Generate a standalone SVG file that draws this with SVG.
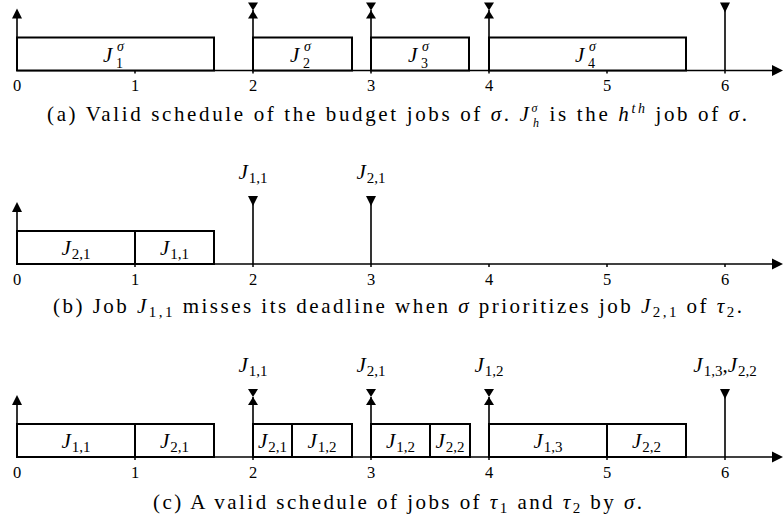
<svg xmlns="http://www.w3.org/2000/svg" width="783" height="523" viewBox="0 0 783 523">
<style>
text{font-family:"Liberation Serif","DejaVu Serif",serif;fill:#000}
.i{font-style:italic}
.cap{font-size:21px}
.tick{font-size:16.5px;text-anchor:middle}
.lbl{font-size:21px;text-anchor:middle}
.jl{font-size:21px}
.sub{font-size:15px}
.ss{font-size:14px}
.box{fill:#fff;stroke:#000;stroke-width:2}
.ax{stroke:#000;stroke-width:1.5;fill:none}
.vl{stroke:#000;stroke-width:1.6;fill:none}
.tri{fill:#000;stroke:none}
</style>
<defs>
<g id="up"><polygon class="tri" points="-5,-52 5,-52 0,-62"/></g>
<g id="down"><polygon class="tri" points="-5,-68 5,-68 0,-58"/></g>
<g id="hg"><polygon class="tri" points="-5,-68 5,-68 0,-60"/><polygon class="tri" points="0,-60 -5,-52 5,-52"/></g>
<g id="axis">
<line class="ax" x1="17" y1="0" x2="774" y2="0"/>
<polygon class="tri" points="772,-5.5 783,0 772,5.5"/>
<line class="ax" x1="135" y1="0" x2="135" y2="3"/>
<line class="ax" x1="253" y1="0" x2="253" y2="3"/>
<line class="ax" x1="371" y1="0" x2="371" y2="3"/>
<line class="ax" x1="489" y1="0" x2="489" y2="3"/>
<line class="ax" x1="607" y1="0" x2="607" y2="3"/>
<line class="ax" x1="725" y1="0" x2="725" y2="3"/>
<text class="tick" x="17" y="20.5">0</text>
<text class="tick" x="135" y="20.5">1</text>
<text class="tick" x="253" y="20.5">2</text>
<text class="tick" x="371" y="20.5">3</text>
<text class="tick" x="489" y="20.5">4</text>
<text class="tick" x="607" y="20.5">5</text>
<text class="tick" x="725" y="20.5">6</text>
</g>
</defs>

<!-- Panel (a) -->
<g id="panel-a">
<use href="#axis" transform="translate(0,70.5)"/>
<g id="a-boxes">
<g id="a-J1"><rect class="box" x="17" y="37.5" width="197" height="33"/>
<text class="jl i" x="103" y="62">J</text><text class="i ss" x="117" y="51">σ</text><text class="ss" x="116" y="68">1</text></g>
<g id="a-J2"><rect class="box" x="253" y="37.5" width="99" height="33"/>
<text class="jl i" x="290" y="62">J</text><text class="i ss" x="304" y="51">σ</text><text class="ss" x="303" y="68">2</text></g>
<g id="a-J3"><rect class="box" x="371" y="37.5" width="98" height="33"/>
<text class="jl i" x="408" y="62">J</text><text class="i ss" x="422" y="51">σ</text><text class="ss" x="421" y="68">3</text></g>
<g id="a-J4"><rect class="box" x="489" y="37.5" width="197" height="33"/>
<text class="jl i" x="575" y="62">J</text><text class="i ss" x="589" y="51">σ</text><text class="ss" x="588" y="68">4</text></g>
</g>
<g id="a-arrows">
<line class="vl" x1="17" y1="70.5" x2="17" y2="12"/><use href="#up" transform="translate(17,70.5)"/>
<line class="vl" x1="253" y1="70.5" x2="253" y2="10"/><use href="#hg" transform="translate(253,70.5)"/>
<line class="vl" x1="371" y1="70.5" x2="371" y2="10"/><use href="#hg" transform="translate(371,70.5)"/>
<line class="vl" x1="489" y1="70.5" x2="489" y2="10"/><use href="#hg" transform="translate(489,70.5)"/>
<line class="vl" x1="725" y1="70.5" x2="725" y2="8"/><use href="#down" transform="translate(725,70.5)"/>
</g>
<text class="cap" x="47" y="121" textLength="700" lengthAdjust="spacing">(a) Valid schedule of the budget jobs of <tspan class="i">σ</tspan>.  <tspan class="i">J</tspan><tspan class="i" font-size="12" dy="-9">σ</tspan><tspan class="i" font-size="12" dx="-7" dy="15">h</tspan><tspan dy="-6">  is the </tspan><tspan class="i">h</tspan><tspan class="i" font-size="14" dy="-8">th</tspan><tspan dy="8"> job of </tspan><tspan class="i">σ</tspan>.</text>
</g>

<!-- Panel (b) -->
<g id="panel-b">
<use href="#axis" transform="translate(0,264)"/>
<g id="b-J21"><rect class="box" x="17" y="231" width="118" height="33"/>
<text class="lbl" x="76" y="255"><tspan class="i">J</tspan><tspan class="sub" dx="1" dy="4">2,1</tspan></text></g>
<g id="b-J11"><rect class="box" x="135" y="231" width="79" height="33"/>
<text class="lbl" x="174.5" y="255"><tspan class="i">J</tspan><tspan class="sub" dx="1" dy="4">1,1</tspan></text></g>
<g id="b-arrows">
<line class="vl" x1="17" y1="264" x2="17" y2="206"/><use href="#up" transform="translate(17,264)"/>
<line class="vl" x1="253" y1="264" x2="253" y2="200"/><use href="#down" transform="translate(253,264)"/>
<line class="vl" x1="371" y1="264" x2="371" y2="200"/><use href="#down" transform="translate(371,264)"/>
</g>
<text class="lbl" x="253" y="179"><tspan class="i">J</tspan><tspan class="sub" dx="1" dy="4">1,1</tspan></text>
<text class="lbl" x="371" y="179"><tspan class="i">J</tspan><tspan class="sub" dx="1" dy="4">2,1</tspan></text>
<text class="cap" x="53" y="313" textLength="689" lengthAdjust="spacing">(b) Job <tspan class="i">J</tspan><tspan font-size="15" dy="4">1,1</tspan><tspan dy="-4"> misses its deadline when </tspan><tspan class="i">σ</tspan> prioritizes job <tspan class="i">J</tspan><tspan font-size="15" dy="4">2,1</tspan><tspan dy="-4"> of </tspan><tspan class="i">τ</tspan><tspan font-size="15" dy="4">2</tspan><tspan dy="-4">.</tspan></text>
</g>

<!-- Panel (c) -->
<g id="panel-c">
<use href="#axis" transform="translate(0,457)"/>
<g id="c-boxes">
<g id="c-J11"><rect class="box" x="17" y="424" width="118" height="33"/>
<text class="lbl" x="76" y="448"><tspan class="i">J</tspan><tspan class="sub" dx="1" dy="4">1,1</tspan></text></g>
<g id="c-J21a"><rect class="box" x="135" y="424" width="79" height="33"/>
<text class="lbl" x="174.5" y="448"><tspan class="i">J</tspan><tspan class="sub" dx="1" dy="4">2,1</tspan></text></g>
<g id="c-J21b"><rect class="box" x="253" y="424" width="39" height="33"/>
<text class="lbl" x="272.5" y="448"><tspan class="i">J</tspan><tspan class="sub" dx="1" dy="4">2,1</tspan></text></g>
<g id="c-J12a"><rect class="box" x="292" y="424" width="60" height="33"/>
<text class="lbl" x="322" y="448"><tspan class="i">J</tspan><tspan class="sub" dx="1" dy="4">1,2</tspan></text></g>
<g id="c-J12b"><rect class="box" x="371" y="424" width="59" height="33"/>
<text class="lbl" x="400.5" y="448"><tspan class="i">J</tspan><tspan class="sub" dx="1" dy="4">1,2</tspan></text></g>
<g id="c-J22a"><rect class="box" x="430" y="424" width="40" height="33"/>
<text class="lbl" x="450" y="448"><tspan class="i">J</tspan><tspan class="sub" dx="1" dy="4">2,2</tspan></text></g>
<g id="c-J13"><rect class="box" x="489" y="424" width="118" height="33"/>
<text class="lbl" x="548" y="448"><tspan class="i">J</tspan><tspan class="sub" dx="1" dy="4">1,3</tspan></text></g>
<g id="c-J22b"><rect class="box" x="607" y="424" width="79" height="33"/>
<text class="lbl" x="646.5" y="448"><tspan class="i">J</tspan><tspan class="sub" dx="1" dy="4">2,2</tspan></text></g>
</g>
<g id="c-arrows">
<line class="vl" x1="17" y1="457" x2="17" y2="399"/><use href="#up" transform="translate(17,457)"/>
<line class="vl" x1="253" y1="457" x2="253" y2="397"/><use href="#hg" transform="translate(253,457)"/>
<line class="vl" x1="371" y1="457" x2="371" y2="397"/><use href="#hg" transform="translate(371,457)"/>
<line class="vl" x1="489" y1="457" x2="489" y2="397"/><use href="#hg" transform="translate(489,457)"/>
<line class="vl" x1="725" y1="457" x2="725" y2="393"/><use href="#down" transform="translate(725,457)"/>
</g>
<text class="lbl" x="253" y="372"><tspan class="i">J</tspan><tspan class="sub" dx="1" dy="4">1,1</tspan></text>
<text class="lbl" x="371" y="372"><tspan class="i">J</tspan><tspan class="sub" dx="1" dy="4">2,1</tspan></text>
<text class="lbl" x="489" y="372"><tspan class="i">J</tspan><tspan class="sub" dx="1" dy="4">1,2</tspan></text>
<text class="lbl" x="725" y="372"><tspan class="i">J</tspan><tspan class="sub" dx="1" dy="4">1,3</tspan><tspan dy="-4">,</tspan><tspan class="i">J</tspan><tspan class="sub" dx="1" dy="4">2,2</tspan></text>
<text class="cap" x="153" y="509" textLength="489" lengthAdjust="spacing">(c) A valid schedule of jobs of <tspan class="i">τ</tspan><tspan font-size="15" dy="4">1</tspan><tspan dy="-4"> and </tspan><tspan class="i">τ</tspan><tspan font-size="15" dy="4">2</tspan><tspan dy="-4"> by </tspan><tspan class="i">σ</tspan>.</text>
</g>
</svg>
